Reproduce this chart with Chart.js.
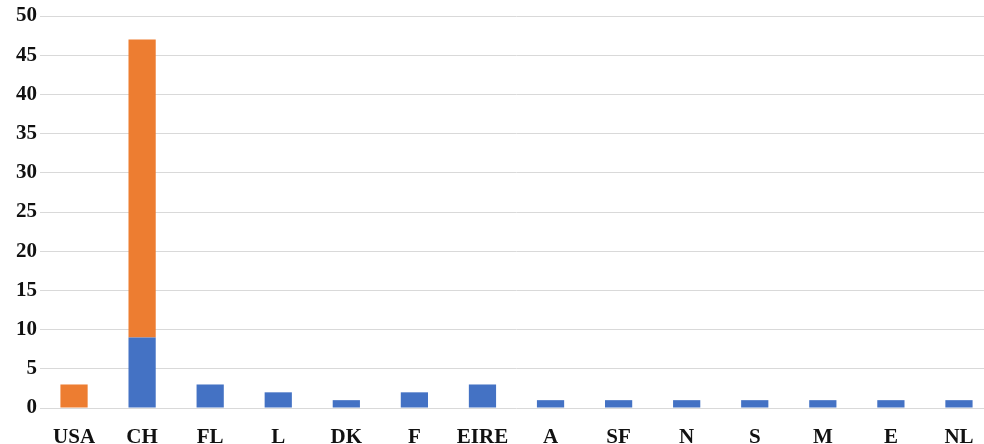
<!DOCTYPE html>
<html>
<head>
<meta charset="utf-8">
<script src="https://cdn.jsdelivr.net/npm/chart.js@4/dist/chart.umd.min.js"></script>
<style>
  html, body { margin: 0; padding: 0; background: #fff; overflow: hidden; }
  #wrap { position: relative; width: 993px; height: 444px; }
</style>
</head>
<body>
<div id="wrap"><canvas id="c"></canvas></div>
<script>
// Country codes along the x axis
const countries = ['USA', 'CH', 'FL', 'L', 'DK', 'F', 'EIRE', 'A', 'SF', 'N', 'S', 'M', 'E', 'NL'];
// Lower (blue) segment of each stacked bar
const blueValues = [0, 9, 3, 2, 1, 2, 3, 1, 1, 1, 1, 1, 1, 1];
// Upper (orange) segment of each stacked bar
const orangeValues = [3, 38, 0, 0, 0, 0, 0, 0, 0, 0, 0, 0, 0, 0];
// Value axis range and step
const yMin = 0, yMax = 50, yStep = 5;

const tickFont = { family: '"Liberation Serif", "Times New Roman", serif', size: 21, weight: 'bold' };

new Chart(document.getElementById('c'), {
  type: 'bar',
  data: {
    labels: countries,
    datasets: [
      { label: 'blue', data: blueValues, backgroundColor: '#4472C4', borderWidth: 0,
        barPercentage: 0.4, categoryPercentage: 1.0 },
      { label: 'orange', data: orangeValues, backgroundColor: '#ED7D31', borderWidth: 0,
        barPercentage: 0.4, categoryPercentage: 1.0 }
    ]
  },
  options: {
    responsive: true,
    maintainAspectRatio: false,
    animation: false,
    layout: { padding: { top: 16, right: 0, left: 0, bottom: 0 } },
    plugins: { legend: { display: false }, tooltip: { enabled: false } },
    scales: {
      x: {
        stacked: true,
        grid: { display: false, drawTicks: false },
        border: { display: false },
        ticks: { color: '#111', font: tickFont, padding: 17, maxRotation: 0, autoSkip: false },
        afterFit: (s) => { s.height = 36; }
      },
      y: {
        stacked: true,
        min: yMin, max: yMax,
        grid: { color: '#d9d9d9', lineWidth: 1, drawTicks: false },
        border: { display: false },
        ticks: { stepSize: yStep, color: '#111', font: tickFont, padding: 3 },
        afterFit: (s) => { s.width = 40; }
      }
    }
  }
});
</script>
</body>
</html>
